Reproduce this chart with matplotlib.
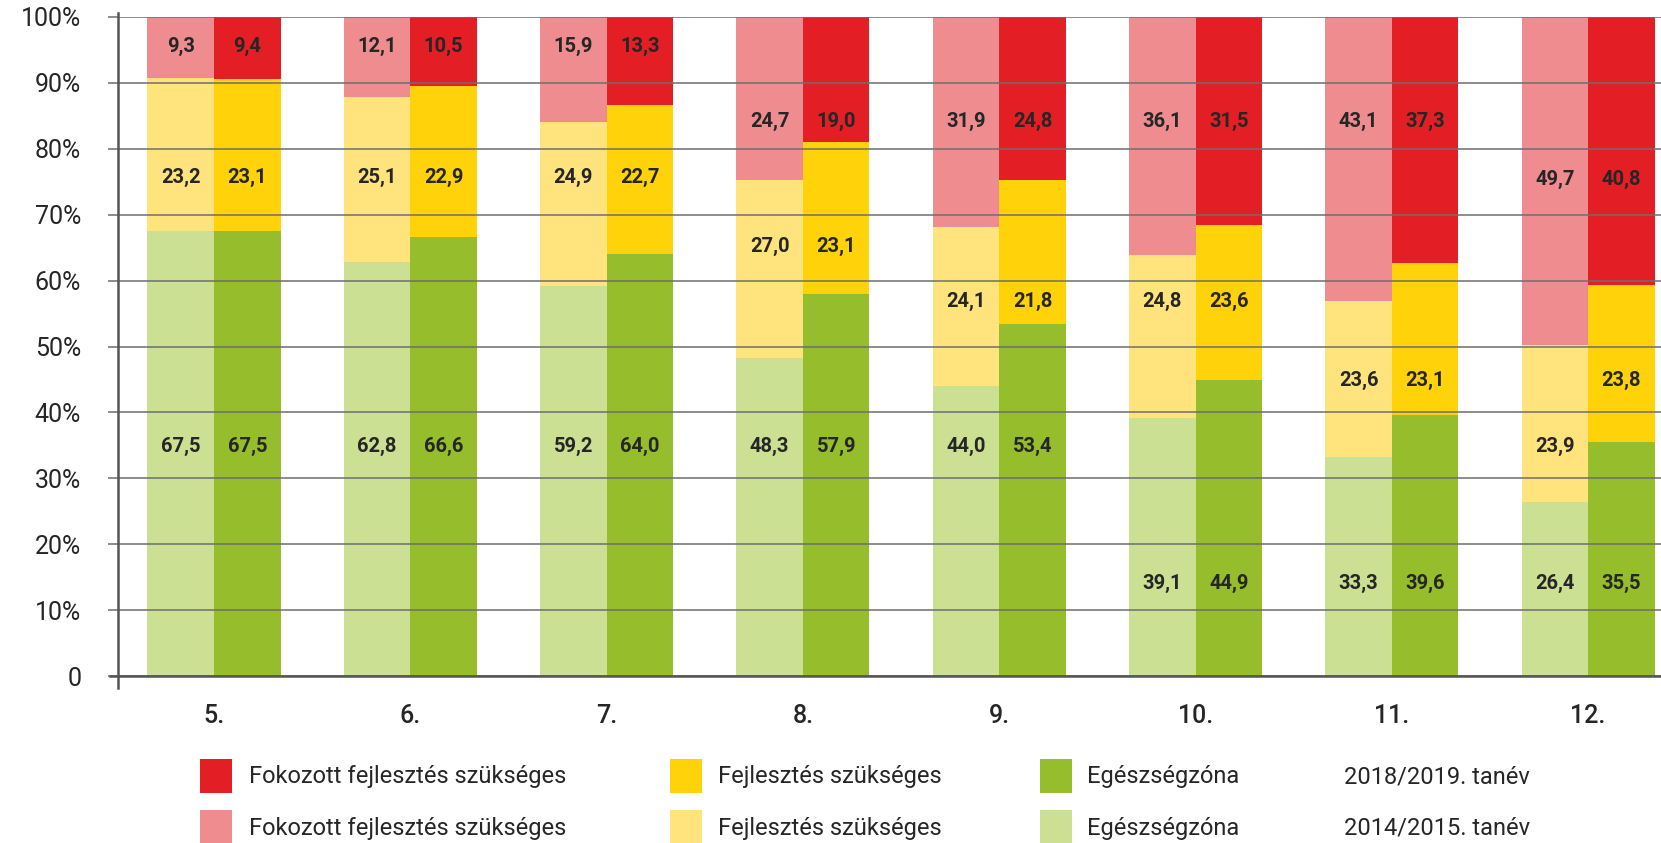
import matplotlib
matplotlib.use("Agg")
import matplotlib.pyplot as plt
import matplotlib.font_manager as fm
from matplotlib.patches import Rectangle
from matplotlib.lines import Line2D
import numpy as np

# ---- data -------------------------------------------------------------
grades = ["5.", "6.", "7.", "8.", "9.", "10.", "11.", "12."]

# 2014/2015 school year
green_1415 = [67.5, 62.8, 59.2, 48.3, 44.0, 39.1, 33.3, 26.4]
yellow_1415 = [23.2, 25.1, 24.9, 27.0, 24.1, 24.8, 23.6, 23.9]
red_1415 = [9.3, 12.1, 15.9, 24.7, 31.9, 36.1, 43.1, 49.7]

# 2018/2019 school year
green_1819 = [67.5, 66.6, 64.0, 57.9, 53.4, 44.9, 39.6, 35.5]
yellow_1819 = [23.1, 22.9, 22.7, 23.1, 21.8, 23.6, 23.1, 23.8]
red_1819 = [9.4, 10.5, 13.3, 19.0, 24.8, 31.5, 37.3, 40.8]

ytick_values = [0, 10, 20, 30, 40, 50, 60, 70, 80, 90, 100]
ytick_labels = ["0", "10%", "20%", "30%", "40%", "50%", "60%", "70%", "80%", "90%", "100%"]

legend_red = "Fokozott fejlesztés szükséges"
legend_yellow = "Fejlesztés szükséges"
legend_green = "Egészségzóna"
year_new = "2018/2019. tanév"
year_old = "2014/2015. tanév"

# heights (in %) at which the value labels sit
red_label_at = [95.5, 95.5, 95.5, 84.1, 84.1, 84.1, 84.1, 75.4]
yellow_label_at_old = [75.6, 75.6, 75.6, 65.2, 56.8, 56.8, 44.8, 34.9]
yellow_label_at_new = [75.6, 75.6, 75.6, 65.2, 56.8, 56.8, 44.8, 44.8]
green_label_at = [34.9, 34.9, 34.9, 34.9, 34.9, 14.1, 14.1, 14.1]

# ---- style ------------------------------------------------------------
C_RED = "#E31E24"
C_RED_L = "#EE8C8F"
C_YEL = "#FFD20A"
C_YEL_L = "#FFE37D"
C_GRN = "#96BE2C"
C_GRN_L = "#CBE093"
C_GRID = "#6E6E6E"
C_AXIS = "#555555"
C_TEXT = "#262626"

available = {f.name for f in fm.fontManager.ttflist}
family = "DejaVu Sans"
for cand in ["Roboto", "Lato", "Noto Sans"]:
    if cand in available:
        family = cand
        break
plt.rcParams["font.family"] = [family, "DejaVu Sans"]

W, H = 1661, 843
fig = plt.figure(figsize=(W / 100, H / 100), dpi=100)
fig.patch.set_facecolor("white")


def fx(px):
    return px / W


def fy(py):
    return 1 - py / H


ax_left, ax_right, ax_top, ax_bottom = 118, 1661, 17, 676
ax = fig.add_axes([fx(ax_left), fy(ax_bottom), fx(ax_right - ax_left), (ax_bottom - ax_top) / H])

x = np.arange(len(grades))
w = 0.339

old_bottom_y = np.array(green_1415) + np.array(yellow_1415)
new_bottom_y = np.array(green_1819) + np.array(yellow_1819)

ax.bar(x - w, green_1415, width=w, align="edge", color=C_GRN_L, zorder=1)
ax.bar(x - w, yellow_1415, bottom=green_1415, width=w, align="edge", color=C_YEL_L, zorder=1)
ax.bar(x - w, red_1415, bottom=old_bottom_y, width=w, align="edge", color=C_RED_L, zorder=1)

ax.bar(x, green_1819, width=w, align="edge", color=C_GRN, zorder=1)
ax.bar(x, yellow_1819, bottom=green_1819, width=w, align="edge", color=C_YEL, zorder=1)
ax.bar(x, red_1819, bottom=new_bottom_y, width=w, align="edge", color=C_RED, zorder=1)


def fmt(v):
    return f"{v:.1f}".replace(".", ",")


lab_kw = dict(ha="center", va="center", fontsize=14.5, color=C_TEXT, fontweight=600, zorder=5)
for i in range(len(grades)):
    xl, xr = x[i] - w / 2, x[i] + w / 2
    ax.text(xl, red_label_at[i], fmt(red_1415[i]), **lab_kw)
    ax.text(xr, red_label_at[i], fmt(red_1819[i]), **lab_kw)
    ax.text(xl, yellow_label_at_old[i], fmt(yellow_1415[i]), **lab_kw)
    ax.text(xr, yellow_label_at_new[i], fmt(yellow_1819[i]), **lab_kw)
    ax.text(xl, green_label_at[i], fmt(green_1415[i]), **lab_kw)
    ax.text(xr, green_label_at[i], fmt(green_1819[i]), **lab_kw)

ax.set_ylim(0, 100)
ax.set_xlim(-0.489, 7.371)
for s in ax.spines.values():
    s.set_visible(False)

ax.set_yticks(ytick_values)
ax.set_yticklabels(ytick_labels)
ax.set_xticks(x)
ax.set_xticklabels(grades)
ax.tick_params(axis="y", length=7.5, width=1.1, color=C_GRID, pad=19, labelsize=18, labelcolor=C_TEXT)
ax.tick_params(axis="x", length=0, pad=20, labelsize=18, labelcolor=C_TEXT)
for t in ax.get_xticklabels():
    t.set_fontweight("medium")

ax.yaxis.grid(True, color=C_GRID, linewidth=1.1)
ax.set_axisbelow(False)

# baseline and vertical axis line
ax.add_line(Line2D([-0.005, 1.0], [0, 0], transform=ax.transAxes, color=C_AXIS,
                   linewidth=1.8, clip_on=False, zorder=4))
ax.add_line(Line2D([0, 0], [-0.018, 1.006], transform=ax.transAxes, color=C_AXIS,
                   linewidth=1.8, clip_on=False, zorder=4))

# ---- legend -----------------------------------------------------------
patch_x = [200, 670, 1040]
text_x = [249, 718, 1087]
row_top = [759, 810]
row_mid = [777, 828]
pw, ph = 32, 34
rows = [
    ([C_RED, C_YEL, C_GRN], [legend_red, legend_yellow, legend_green], year_new),
    ([C_RED_L, C_YEL_L, C_GRN_L], [legend_red, legend_yellow, legend_green], year_old),
]
for r, (cols, labels, year) in enumerate(rows):
    for c in range(3):
        fig.add_artist(Rectangle((fx(patch_x[c]), fy(row_top[r] + ph)), fx(pw), ph / H,
                                 facecolor=cols[c], edgecolor="none", transform=fig.transFigure))
        fig.text(fx(text_x[c]), fy(row_mid[r]), labels[c], ha="left", va="center",
                 fontsize=17, color=C_TEXT)
    fig.text(fx(1344), fy(row_mid[r]), year, ha="left", va="center", fontsize=17, color=C_TEXT)

fig.savefig("out.png", dpi=100, facecolor="white")
